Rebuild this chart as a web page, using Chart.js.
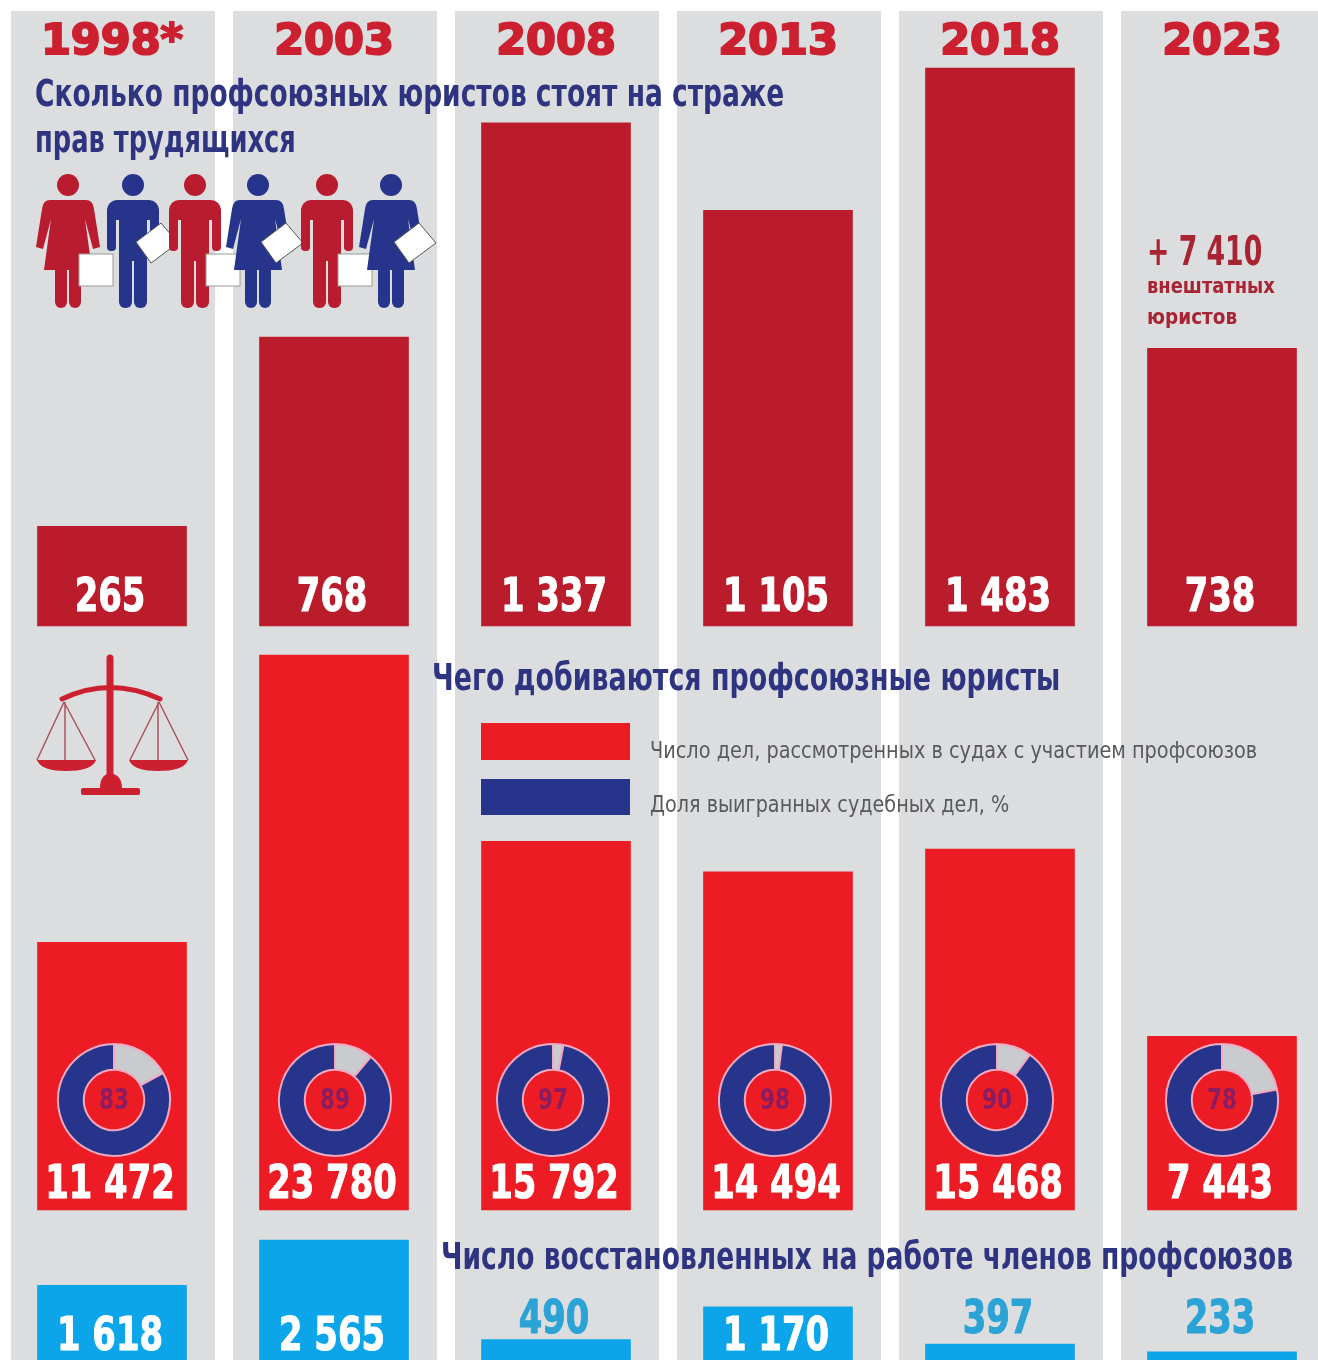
<!DOCTYPE html>
<html lang="ru">
<head>
<meta charset="utf-8">
<title>Профсоюзные юристы</title>
<script src="https://cdn.jsdelivr.net/npm/chart.js@4/dist/chart.umd.js"></script>
<style>
html, body { margin: 0; padding: 0; width: 1318px; height: 1360px; overflow: hidden; background: #fff; }
body { position: relative; font-family: "DejaVu Sans Condensed", "DejaVu Sans", sans-serif; }
#main { position: absolute; left: 0; top: 0; }
.txt { position: absolute; white-space: nowrap; transform-origin: left center; line-height: 1; }
.title { color: #2e3480; font-weight: bold; font-size: 38px; }
.legend-text { color: #58595b; font-size: 23px; }
.swatch { position: absolute; left: 481px; width: 149px; }
.extra { color: #a82433; font-weight: bold; }
.donut { position: absolute; width: 116px; height: 116px; }
svg.icon { position: absolute; left: 0; top: 0; pointer-events: none; }
</style>
</head>
<body>
<canvas id="main" width="1318" height="1360"></canvas>

<div class="txt title" data-w="749" style="left:35px;top:74px">Сколько профсоюзных юристов стоят на страже</div>
<div class="txt title" data-w="261" style="left:35px;top:120px">прав трудящихся</div>
<div class="txt title" data-w="628" style="left:432px;top:658px">Чего добиваются профсоюзные юристы</div>
<div class="txt title" data-w="852" style="left:441px;top:1237px">Число восстановленных на работе членов профсоюзов</div>

<div class="swatch" style="top:723px;height:37px;background:#ed1c24"></div>
<div class="swatch" style="top:779px;height:36px;background:#27348b"></div>
<div class="txt legend-text" data-w="607" style="left:650px;top:739px">Число дел, рассмотренных в судах с участием профсоюзов</div>
<div class="txt legend-text" data-w="359" style="left:650px;top:793px">Доля выигранных судебных дел, %</div>

<div class="txt extra" data-w="115" style="left:1147px;top:231px;font-size:40px">+ 7 410</div>
<div class="txt extra" data-w="128" style="left:1147px;top:276px;font-size:21px">внештатных</div>
<div class="txt extra" data-w="90" style="left:1147px;top:307px;font-size:21px">юристов</div>

<svg class="icon" width="1318" height="1360">
  <defs>
    <g id="man">
      <circle cx="0" cy="0" r="11"/>
      <rect x="-26" y="15" width="52" height="20" rx="10"/>
      <rect x="-14" y="20" width="28" height="56"/>
      <rect x="-14" y="70" width="13" height="53" rx="6"/>
      <rect x="1" y="70" width="13" height="53" rx="6"/>
      <rect x="-26" y="22" width="9" height="44" rx="4"/>
      <rect x="17" y="22" width="9" height="44" rx="4"/>
    </g>
    <g id="woman">
      <circle cx="0" cy="0" r="11"/>
      <path d="M-18 15 H18 Q25 15 26 24 L32 62 L25 64 L17 34 L24 85 H-24 L-17 34 L-25 64 L-32 62 L-26 24 Q-25 15 -18 15 Z"/>
      <rect x="-13" y="80" width="12" height="43" rx="6"/>
      <rect x="1" y="80" width="12" height="43" rx="6"/>
    </g>
    <rect id="case" x="11" y="69" width="34" height="32" fill="#fff" stroke="#9a9a9a" stroke-width="1"/>
    <polygon id="paper" points="3,57 28,38 45,58 18,78" fill="#fff" stroke="#555" stroke-width="1"/>
  </defs>
  <g transform="translate(68,185)" fill="#b81c2e"><use href="#woman"/><use href="#case"/></g>
  <g transform="translate(133,185)" fill="#27348b"><use href="#man"/><use href="#paper"/></g>
  <g transform="translate(195,185)" fill="#b81c2e"><use href="#man"/><use href="#case"/></g>
  <g transform="translate(258,185)" fill="#27348b"><use href="#woman"/><use href="#paper"/></g>
  <g transform="translate(327,185)" fill="#b81c2e"><use href="#man"/><use href="#case"/></g>
  <g transform="translate(391,185)" fill="#27348b"><use href="#woman"/><use href="#paper"/></g>

  <g fill="none" stroke="#cc2030">
    <path d="M110 658 V785" stroke-width="7" stroke-linecap="round"/>
    <path d="M62 699 Q110 676 160 699" stroke-width="5" stroke-linecap="round"/>
    <path d="M64 702 L37 760 M64 702 L95 760 M65 702 V760 M159 702 L130 760 M159 702 L188 760 M158 702 V760" stroke="#a8565e" stroke-width="1.5"/>
  </g>
  <g fill="#cc2030">
    <path d="M37 760 H96 Q92 771 66 771 Q41 771 37 760 Z"/>
    <path d="M129 760 H188 Q184 771 158 771 Q133 771 129 760 Z"/>
    <path d="M100 788 Q100 775 110 773 Q122 775 122 788 Z"/>
    <rect x="81" y="788" width="59" height="7" rx="2"/>
  </g>
</svg>

<script>
const years = [1998, 2003, 2008, 2013, 2018, 2023];
const yearLabels = ['1998*', '2003', '2008', '2013', '2018', '2023'];
const lawyers = [265, 768, 1337, 1105, 1483, 738];
const courtCases = [11472, 23780, 15792, 14494, 15468, 7443];
const wonShare = [83, 89, 97, 98, 90, 78];
const reinstated = [1618, 2565, 490, 1170, 397, 233];

// small offsets of the rings against their bars in the original
const donutShift = [2, 1, -3, -3, -3, 0];

const headerHeight = 62;
const pageHeight = 1360;
const labelFont = '"DejaVu Sans Condensed", "DejaVu Sans", sans-serif';

// the only condensed face here is still too wide, so squeeze texts to their measured widths
document.querySelectorAll('.txt[data-w]').forEach(el => {
    el.style.transform = `scaleX(${el.dataset.w / el.offsetWidth})`;
});

// y range for a hidden axis: zero sits at basePx, refValue sits at refPx
function yRange(basePx, refValue, refPx) {
    const pxPerUnit = (basePx - refPx) / refValue;
    return {
        min: -(pageHeight - basePx) / pxPerUnit,
        max: (basePx - headerHeight) / pxPerUnit
    };
}

function fmt(v) {
    return String(v).replace(/\B(?=(\d{3})+$)/g, ' ');
}

function barSet(label, values, color, axis, labelLift) {
    return {
        label: label,
        data: years.map((y, i) => ({ x: y, y: values[i] })),
        backgroundColor: color,
        yAxisID: axis,
        barThickness: 149,
        grouped: false,
        labelLift: labelLift
    };
}

const columnBands = {
    id: 'columnBands',
    beforeDraw(chart) {
        const ctx = chart.ctx;
        const x = chart.scales.x;
        ctx.save();
        ctx.fillStyle = '#dcdddf';
        years.forEach(y => {
            ctx.fillRect(x.getPixelForValue(y) - 101, 11, 204, pageHeight - 11);
        });
        ctx.restore();
    }
};

const valueLabels = {
    id: 'valueLabels',
    afterDatasetsDraw(chart) {
        const ctx = chart.ctx;
        ctx.save();
        ctx.textAlign = 'center';
        ctx.textBaseline = 'middle';
        ctx.font = 'bold 47px ' + labelFont;
        ctx.lineWidth = 1;
        chart.data.datasets.forEach((ds, d) => {
            const base = chart.scales[ds.yAxisID].getPixelForValue(0);
            chart.getDatasetMeta(d).data.forEach((bar, i) => {
                const outside = base - bar.y < 45;
                const color = outside ? '#2ba3d6' : '#fff';
                const y = base - (outside ? 42 : ds.labelLift);
                const text = fmt(ds.data[i].y);
                const w = ctx.measureText(text).width * 0.8;
                ctx.fillStyle = color;
                ctx.strokeStyle = color;
                ctx.fillText(text, bar.x - 2, y, w);
                ctx.strokeText(text, bar.x - 2, y, w);
            });
        });
        ctx.restore();
    }
};

const chart = new Chart(document.getElementById('main'), {
    type: 'bar',
    data: {
        datasets: [
            barSet('Профсоюзные юристы', lawyers, '#bb1c2c', 'yLawyers', 27),
            barSet('Число дел, рассмотренных в судах с участием профсоюзов', courtCases, '#ed1c24', 'yCases', 24),
            barSet('Число восстановленных на работе членов профсоюзов', reinstated, '#0da5ea', 'yBack', 25)
        ]
    },
    options: {
        responsive: false,
        animation: false,
        layout: { padding: 0 },
        plugins: { legend: { display: false }, tooltip: { enabled: false } },
        scales: {
            x: {
                type: 'linear',
                position: 'top',
                offset: false,
                min: 1998 - 112 / 44.4,
                max: 1998 + (1318 - 112) / 44.4,
                afterFit(scale) {
                    scale.height = headerHeight;
                    scale.paddingLeft = 0;
                    scale.paddingRight = 0;
                },
                afterBuildTicks(scale) { scale.ticks = years.map(y => ({ value: y })); },
                grid: { display: false, drawTicks: false },
                border: { display: false },
                ticks: {
                    autoSkip: false,
                    maxRotation: 0,
                    padding: -7,
                    color: '#cc2030',
                    textStrokeColor: '#cc2030',
                    textStrokeWidth: 2,
                    font: { family: '"DejaVu Sans"', weight: 'bold', size: 43 },
                    callback: v => yearLabels[years.indexOf(v)]
                }
            },
            yLawyers: { display: false, ...yRange(626, 1483, 68) },
            yCases: { display: false, ...yRange(1210, 23780, 655) },
            yBack: { display: false, ...yRange(1363, 2565, 1240) }
        }
    },
    plugins: [columnBands, valueLabels]
});

const donutCenter = {
    id: 'donutCenter',
    afterDraw(c) {
        const ctx = c.ctx;
        const arc = c.getDatasetMeta(0).data[0];
        ctx.save();
        ctx.textAlign = 'center';
        ctx.textBaseline = 'middle';
        ctx.fillStyle = '#8a1c62';
        ctx.font = 'bold 28px ' + labelFont;
        ctx.fillText(String(c.data.datasets[0].data[1]), arc.x, arc.y + 2, 30);
        ctx.restore();
    }
};

// the rings sit on top of the red bars, placed from the main chart's scales
const centerY = chart.scales.yCases.getPixelForValue(0) - 110;
years.forEach((y, i) => {
    const holder = document.createElement('div');
    holder.className = 'donut';
    holder.style.left = (chart.scales.x.getPixelForValue(y) + donutShift[i] - 58) + 'px';
    holder.style.top = (centerY - 58) + 'px';
    const canvas = document.createElement('canvas');
    canvas.width = 116;
    canvas.height = 116;
    holder.appendChild(canvas);
    document.body.appendChild(holder);

    new Chart(canvas, {
        type: 'doughnut',
        data: {
            labels: ['Проигранные', 'Доля выигранных судебных дел, %'],
            datasets: [{
                data: [100 - wonShare[i], wonShare[i]],
                backgroundColor: ['#c9cbce', '#27348b'],
                borderColor: '#f2a9c2',
                borderWidth: 2
            }]
        },
        options: {
            responsive: false,
            animation: false,
            cutout: '54%',
            layout: { padding: 1 },
            plugins: { legend: { display: false }, tooltip: { enabled: false } }
        },
        plugins: [donutCenter]
    });
});
</script>
</body>
</html>
